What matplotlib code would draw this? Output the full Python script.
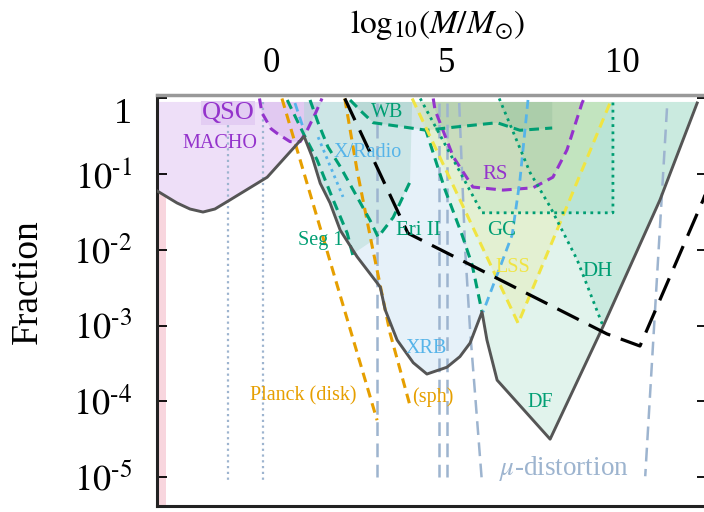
import numpy as np
import matplotlib
matplotlib.use('Agg')
import matplotlib.pyplot as plt

plt.rcParams['font.family'] = ['Liberation Serif', 'DejaVu Serif']
plt.rcParams['mathtext.fontset'] = 'stix'

# all values: x = log10(M/Msun), y = log10(f)
TOP = -0.046

# combined envelope (solid grey)
env_m = [-3.25, -2.68, -2.31, -1.94, -1.60, -1.17, -0.11, 0.94, 1.17, 1.40, 1.68, 1.97, 2.45,
         3.11, 3.25, 3.59, 4.05, 4.44, 5.01, 5.38, 5.67, 6.01, 6.15, 6.44, 7.95, 9.46, 11.08, 12.14]
env_f = [-1.22, -1.38, -1.46, -1.50, -1.46, -1.34, -1.04, -0.50, -0.77, -1.12, -1.38, -1.74, -2.09,
         -2.49, -2.79, -3.19, -3.49, -3.64, -3.55, -3.41, -3.23, -2.82, -3.19, -3.72, -4.50, -3.01, -1.34, -0.06]
i_peak = 7
i_xrb = 21

qso_m = [-0.33, -0.26, 0.0, 0.17, 0.54, 0.83, 1.05, 1.28, 1.45]
qso_f = [0, -0.19, -0.40, -0.46, -0.57, -0.57, -0.40, -0.18, 0]

rs_m = [4.62, 4.67, 5.19, 5.75, 6.61, 7.46, 8.03, 8.43, 8.86, 8.92]
rs_f = [0, -0.15, -0.77, -1.17, -1.21, -1.18, -1.04, -0.68, -0.06, 0]

disk_m = [0.31, 3.02]
disk_f = [0, -4.25]
sph_m = [2.10, 2.45, 2.88, 3.39, 3.96]
sph_f = [0, -0.95, -1.95, -3.10, -4.06]

inc_m = [2.10, 3.90, 9.57, 10.51, 12.31, 12.9]
inc_f = [0, -1.78, -3.11, -3.27, -1.34, -0.6]

seg_m = [0.46, 0.94, 1.31, 1.77, 2.17, 2.34]
seg_f = [-0.02, -0.48, -0.81, -1.34, -1.78, -2.09]
eri_m = [1.11, 1.34, 1.62, 1.97, 2.39, 2.82, 3.05, 3.48, 3.96]
eri_f = [-0.02, -0.32, -0.64, -0.90, -1.25, -1.61, -1.83, -1.57, -1.10]
wb_m = [2.25, 2.59, 2.91, 4.44, 5.19, 6.44, 7.09, 8.01]
wb_f = [-0.02, -0.18, -0.32, -0.42, -0.38, -0.32, -0.42, -0.39]
dfl_m = [4.39, 4.96, 5.44, 5.73, 6.01]
dfl_f = [-0.39, -1.21, -1.80, -2.20, -2.82]

gc_m = [4.25, 6.01, 9.74, 9.74]
gc_f = [0, -1.51, -1.51, 0]
dh_m = [6.50, 7.38, 7.95, 8.72, 9.46]
dh_f = [0, -0.98, -1.43, -2.13, -3.01]

lss_m = [4.02, 7.04, 9.71]
lss_f = [0, -2.97, 0]

xb_m = [7.32, 7.09, 6.87, 6.44, 6.04]
xb_f = [-0.02, -1.08, -1.80, -2.33, -2.82]
xs_m = [0.68, 0.91]
xs_f = [-0.06, -0.38]
xr_m = [1.34, 2.05]
xr_f = [-0.51, -1.30]

teal_m = [0.94, 0.94, 1.17, 1.40, 1.68, 1.97, 2.34, 3.05, 3.48, 3.96, 4.02]
teal_f = [TOP, -0.50, -0.77, -1.12, -1.38, -1.74, -2.05, -1.83, -1.57, -1.10, TOP]

dot_lines = [-1.23, -0.23]
mu_lines = [3.02, 4.79, 5.01]
mu_slant_m = [5.36, 5.53, 5.67, 6.01]
mu_slant_f = [-0.06, -2.0, -3.06, -5.08]
mu_right_m = [11.28, 10.66]
mu_right_f = [-0.13, -4.99]

ytick_vals = [1e-5, 1e-4, 1e-3, 1e-2, 1e-1, 1]
ytick_text = [r'$10^{\text{-}5}$', r'$10^{\text{-}4}$', r'$10^{\text{-}3}$',
              r'$10^{\text{-}2}$', r'$10^{\text{-}1}$', '1']
xtick_vals = [0, 5, 10]

purple = '#9433cc'
green = '#009E73'
orange = '#E69F00'
sky = '#56B4E9'
yellow = '#F0E442'
steel = '#9db4cf'


def lg(v):
    return 10.0 ** np.asarray(v, dtype=float)


fig = plt.figure(figsize=(7.04, 5.12), dpi=100)
ax = fig.add_axes([157 / 704, 6 / 512, 550 / 704, 411 / 512])
ax.set_yscale('log')

# fills
ax.fill([-3.4, -3.0, -3.0, -3.4], lg([-5.6, -5.6, TOP, TOP]), color='#f8d6de', lw=0, zorder=1)
ax.fill(env_m[:i_peak + 1] + [env_m[i_peak], env_m[0]], lg(env_f[:i_peak + 1] + [TOP, TOP]),
        color='#eedff8', lw=0, zorder=1)
ax.fill(env_m[i_peak:i_xrb + 1] + [env_m[i_xrb], env_m[i_peak]], lg(env_f[i_peak:i_xrb + 1] + [TOP, TOP]),
        color='#e6f1f9', lw=0, zorder=1)
ax.fill(teal_m, lg(teal_f), color='#cde6e6', lw=0, zorder=1.2)
ax.fill([dfl_m[0]] + dfl_m + env_m[i_xrb + 1:] + [env_m[-1], dfl_m[0]],
        lg([TOP] + dfl_f + env_f[i_xrb + 1:] + [TOP, TOP]), color='#e1f3ec', lw=0, zorder=1.2)
ax.fill(qso_m, lg(np.minimum(qso_f, TOP)), color='#b57edc', alpha=0.22, lw=0, zorder=1.3)
ax.fill(dh_m + env_m[-3:] + [env_m[-1]], lg([TOP] + dh_f[1:] + env_f[-3:] + [TOP]),
        color=green, alpha=0.1, lw=0, zorder=1.3)
ax.fill(gc_m, lg(np.minimum(gc_f, TOP)), color=green, alpha=0.08, lw=0, zorder=1.3)
ax.fill(rs_m, lg(np.minimum(rs_f, TOP)), color='#808080', alpha=0.15, lw=0, zorder=1.3)
ax.fill(wb_m + [wb_m[-1]], lg([TOP] + wb_f[1:] + [TOP]), color='#2a7f6a', alpha=0.12, lw=0, zorder=1.3)
ax.fill(lss_m, lg(np.minimum(lss_f, TOP)), color=yellow, alpha=0.15, lw=0, zorder=1.3)

# vertical mu-distortion style lines
for m in dot_lines:
    ax.plot([m, m], lg([TOP, -5.07]), color=steel, lw=1.6, dashes=(1, 1.6), zorder=3)
for m in mu_lines:
    ax.plot([m, m], lg([-0.06, -5.0]), color=steel, lw=1.8, dashes=(5.5, 3), zorder=3)
ax.plot(mu_slant_m, lg(mu_slant_f), color=steel, lw=1.8, dashes=(5.5, 3), zorder=3)
ax.plot(mu_right_m, lg(mu_right_f), color=steel, lw=1.8, dashes=(5.5, 3), zorder=3)

dash = (3.2, 2)
ax.plot(qso_m, lg(qso_f), color=purple, lw=2.2, dashes=dash, zorder=4)
ax.plot(rs_m, lg(rs_f), color=purple, lw=2.2, dashes=dash, zorder=4)
ax.plot(disk_m, lg(disk_f), color=orange, lw=2.2, dashes=dash, zorder=4)
ax.plot(sph_m, lg(sph_f), color=orange, lw=2.2, dashes=dash, zorder=4)
ax.plot(seg_m, lg(seg_f), color=green, lw=2.2, dashes=dash, zorder=4)
ax.plot(eri_m, lg(eri_f), color=green, lw=2.2, dashes=dash, zorder=4)
ax.plot(wb_m, lg(wb_f), color=green, lw=2.2, dashes=dash, zorder=4)
ax.plot(dfl_m, lg(dfl_f), color=green, lw=2.2, dashes=dash, zorder=4)
ax.plot(lss_m, lg(lss_f), color=yellow, lw=2.2, dashes=dash, zorder=4)
ax.plot(xb_m, lg(xb_f), color=sky, lw=2.0, dashes=dash, zorder=4)
ax.plot(xs_m, lg(xs_f), color=sky, lw=2.0, dashes=dash, zorder=4)
ax.plot(xr_m, lg(xr_f), color=sky, lw=2.0, dashes=(1, 1.5), zorder=4)
ax.plot(gc_m, lg(gc_f), color=green, lw=2.0, dashes=(1, 1.6), zorder=4)
ax.plot(dh_m, lg(dh_f), color=green, lw=2.0, dashes=(1, 1.6), zorder=4)

ax.plot(env_m, lg(env_f), color='#555555', lw=2.1, zorder=5)
ax.plot(inc_m, lg(inc_f), color='black', lw=2.3, dashes=(7.5, 3.5), zorder=5)

# labels
labels = [
    ('QSO', -1.23, -0.19, purple, 19),
    ('MACHO', -1.45, -0.59, purple, 14.5),
    ('X/Radio', 2.74, -0.72, sky, 14.5),
    ('WB', 3.30, -0.19, green, 14.5),
    ('Seg 1', 1.40, -1.87, green, 14.5),
    ('Eri II', 4.19, -1.74, green, 15),
    ('RS', 6.38, -1.01, purple, 15),
    ('GC', 6.58, -1.74, green, 15),
    ('LSS', 6.89, -2.23, yellow, 14.5),
    ('DH', 9.29, -2.29, green, 15),
    ('XRB', 4.42, -3.30, sky, 14.5),
    ('Planck (disk)', 0.91, -3.93, orange, 14.5),
    ('(sph)', 4.62, -3.94, orange, 14.5),
    ('DF', 7.66, -4.01, green, 14.5),
    (r'$\mu$-distortion', 8.35, -4.89, steel, 19.5),
]
for txt, m, f, c, s in labels:
    t = ax.text(m, 10 ** f, txt, color=c, fontsize=s, ha='center', va='center', zorder=6)
    if txt == 'QSO':
        t.set_bbox(dict(facecolor='#e3cdf3', edgecolor='none', pad=0.5))

ax.set_xlim(-3.25, 12.42)
ax.set_ylim(10 ** -5.383, 10 ** 0.046)

ax.set_yticks(ytick_vals, labels=ytick_text)
ax.yaxis.set_minor_locator(matplotlib.ticker.NullLocator())
ax.tick_params(axis='y', direction='in', length=7, width=1.3, labelsize=26, pad=18, right=True)
for t in ax.get_yticklabels():
    if t.get_text() == '1':
        t.set_verticalalignment('top')

ax.xaxis.tick_top()
ax.set_xticks(xtick_vals)
ax.tick_params(axis='x', length=0, labelsize=25, pad=10.5)

for side in ['left', 'bottom', 'right']:
    ax.spines[side].set_linewidth(2.2)
    ax.spines[side].set_color('#222222')
ax.spines['top'].set_color('#999999')
ax.spines['top'].set_linewidth(2.5)

fig.text(28 / 704, 1 - 282 / 512, 'Fraction', rotation=90, fontsize=27, ha='center', va='center')
fig.text(437 / 704, 1 - 25 / 512, r'$\mathrm{log}_{10}(M/M_{\odot})$', fontsize=24, ha='center', va='center')

fig.savefig('out.png', dpi=100)
